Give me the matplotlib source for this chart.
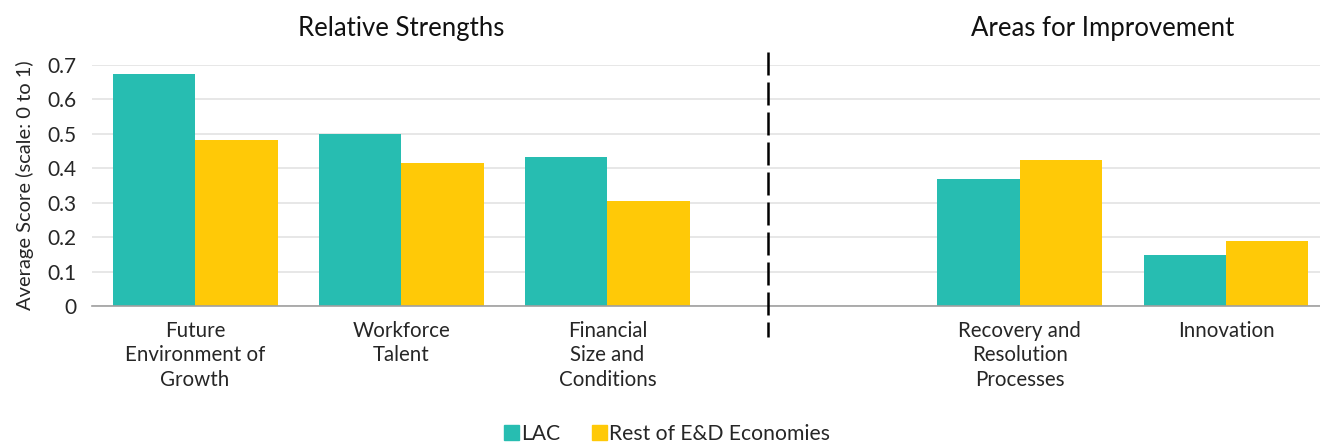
import numpy as np
import matplotlib
matplotlib.use("Agg")
from matplotlib import pyplot as plt
from matplotlib.patches import Patch

plt.rcParams['font.family'] = ['Lato', 'DejaVu Sans']

categories = ["Future\nEnvironment of\nGrowth", "Workforce\nTalent",
              "Financial\nSize and\nConditions", "Recovery and\nResolution\nProcesses",
              "Innovation"]
lac = [0.674, 0.500, 0.433, 0.368, 0.147]
rest = [0.482, 0.415, 0.305, 0.424, 0.189]
series_names = ["LAC", "Rest of E&D Economies"]
section_titles = ["Relative Strengths", "Areas for Improvement"]

teal = "#27BDB1"
yellow = "#FFC907"
text_col = "#262626"

# slot 3 is left empty as a gap between the two sections
slots = np.array([0, 1, 2, 4, 5])
w = 0.4

fig = plt.figure(figsize=(13.2, 4.48), dpi=100)
ax = fig.add_axes([92 / 1320, (448 - 306) / 448, (1320 - 92) / 1320, 241 / 448])

ax.bar(slots - w / 2, lac, width=w, color=teal, zorder=2)
ax.bar(slots + w / 2, rest, width=w, color=yellow, zorder=2)

ax.set_xlim(-0.5, 5.456)
ax.set_ylim(0, 0.7)
ax.set_yticks(np.arange(0, 0.71, 0.1))
ax.set_yticklabels(["0"] + [f"{v:.1f}" for v in np.arange(0.1, 0.71, 0.1)],
                   fontsize=15, color=text_col)
ax.set_xticks(slots)
ax.set_xticklabels(categories, fontsize=14.8, color=text_col, linespacing=1.26)
ax.tick_params(length=0)
ax.tick_params(axis='x', pad=11)
ax.tick_params(axis='y', pad=11)
ax.grid(axis='y', color="#e3e3e3", linewidth=1.2, zorder=0)
for s in ["top", "right", "left"]:
    ax.spines[s].set_visible(False)
ax.spines["bottom"].set_color("#a0a0a0")
ax.spines["bottom"].set_linewidth(1.2)
ax.spines["bottom"].set_zorder(3)

ax.set_ylabel("Average Score (scale: 0 to 1)", fontsize=14.5, color=text_col, labelpad=10)

# dashed divider between sections, drawn top-down so the pattern starts at the top
ax.plot([2.777, 2.777], [1.055, -0.13], transform=ax.get_xaxis_transform(),
        color="black", linestyle=(0, (9.2, 2.8)), linewidth=1.8, clip_on=False, zorder=4)

ax.text(1, 1.15, section_titles[0], transform=ax.get_xaxis_transform(),
        ha="center", va="center", fontsize=18.5, color="#111111")
ax.text(4.4, 1.15, section_titles[1], transform=ax.get_xaxis_transform(),
        ha="center", va="center", fontsize=18.5, color="#111111")

handles = [Patch(color=teal, label=series_names[0]), Patch(color=yellow, label=series_names[1])]
fig.legend(handles=handles, loc="center", bbox_to_anchor=(667 / 1320, 1 - 434 / 448),
           ncol=2, frameon=False, fontsize=15.2, handlelength=0.7, handleheight=0.7,
           handletextpad=0.1, columnspacing=1.5, labelcolor=text_col)

fig.savefig("out.png", dpi=100)
